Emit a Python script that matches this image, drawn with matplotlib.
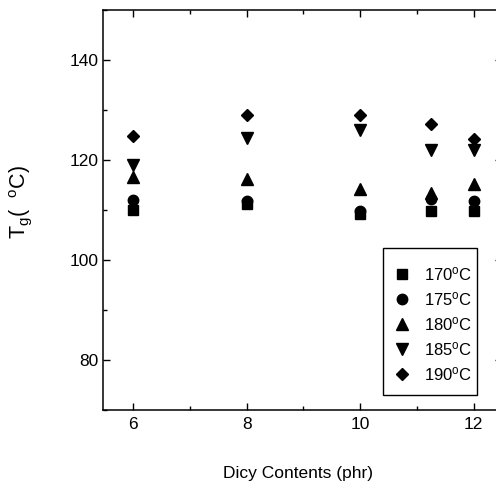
import matplotlib
matplotlib.use("Agg")
import matplotlib.pyplot as plt
from matplotlib.patches import Rectangle
from matplotlib.ticker import MultipleLocator

plt.rcParams["font.family"] = ["Liberation Sans", "DejaVu Sans"]
plt.rcParams["mathtext.default"] = "regular"

# Dicy content (phr) and glass transition temperature per cure temperature
dicy = [6, 8, 10, 11.25, 12]
tg_170 = [110.0, 111.3, 109.3, 109.9, 109.9]
tg_175 = [112.0, 111.8, 109.9, 112.2, 111.8]
tg_180 = [116.7, 116.2, 114.2, 113.5, 115.3]
tg_185 = [119.0, 124.5, 126.1, 122.0, 122.0]
tg_190 = [124.8, 129.1, 129.1, 127.3, 124.3]

labels = ["170$^{o}$C", "175$^{o}$C", "180$^{o}$C", "185$^{o}$C", "190$^{o}$C"]
series = [tg_170, tg_175, tg_180, tg_185, tg_190]
markers = ["s", "o", "^", "v", "D"]
sizes = [7, 7.5, 8.5, 8.5, 6]

W, H = 496, 484
AX_L, AX_R, AX_T, AX_B = 103, 502, 10, 410
fig = plt.figure(figsize=(W / 100, H / 100), dpi=100)
ax = fig.add_axes([AX_L / W, 1 - AX_B / H, (AX_R - AX_L) / W, (AX_B - AX_T) / H])


def axfrac(px, py):
    """Pixel position in the figure -> axes fraction."""
    return (px - AX_L) / (AX_R - AX_L), (AX_B - py) / (AX_B - AX_T)


for ys, m, ms, lab in zip(series, markers, sizes, labels):
    ax.plot(dicy, ys, linestyle="none", marker=m, markersize=ms,
            color="black", label=lab)

ax.set_xlim(5.47, 12.5)
ax.set_ylim(70, 150)
ax.xaxis.set_major_locator(MultipleLocator(2))
ax.xaxis.set_minor_locator(MultipleLocator(1))
ax.yaxis.set_major_locator(MultipleLocator(20))
ax.yaxis.set_minor_locator(MultipleLocator(10))
ax.tick_params(which="both", direction="in", top=True, right=True,
               labelsize=12.5, width=1)
ax.tick_params(which="major", length=5)
ax.tick_params(which="minor", length=3)
ax.tick_params(axis="x", pad=5)
ax.tick_params(axis="y", pad=3.5)
for s in ax.spines.values():
    s.set_linewidth(1.1)

ax.set_xlabel("Dicy Contents (phr)", fontsize=12.5)
ax.xaxis.set_label_coords(0.489, -0.14)
ax.set_ylabel("T$_{g}$(  $^{o}$C)", fontsize=15.5)
ax.yaxis.set_label_coords(-0.172, 0.52)

# legend entries without frame, plus a square box around them
leg = ax.legend(loc="upper left", bbox_to_anchor=axfrac(395, 265),
                frameon=False, fontsize=12, handletextpad=0.95,
                labelspacing=0.42, borderpad=0, borderaxespad=0,
                handlelength=0.8)
x0, y1 = axfrac(383, 248)
x1, y0 = axfrac(477, 395)
ax.add_patch(Rectangle((x0, y0), x1 - x0, y1 - y0, transform=ax.transAxes,
                       fill=False, edgecolor="black", linewidth=1.0, zorder=5))

fig.savefig("out.png", dpi=100)
